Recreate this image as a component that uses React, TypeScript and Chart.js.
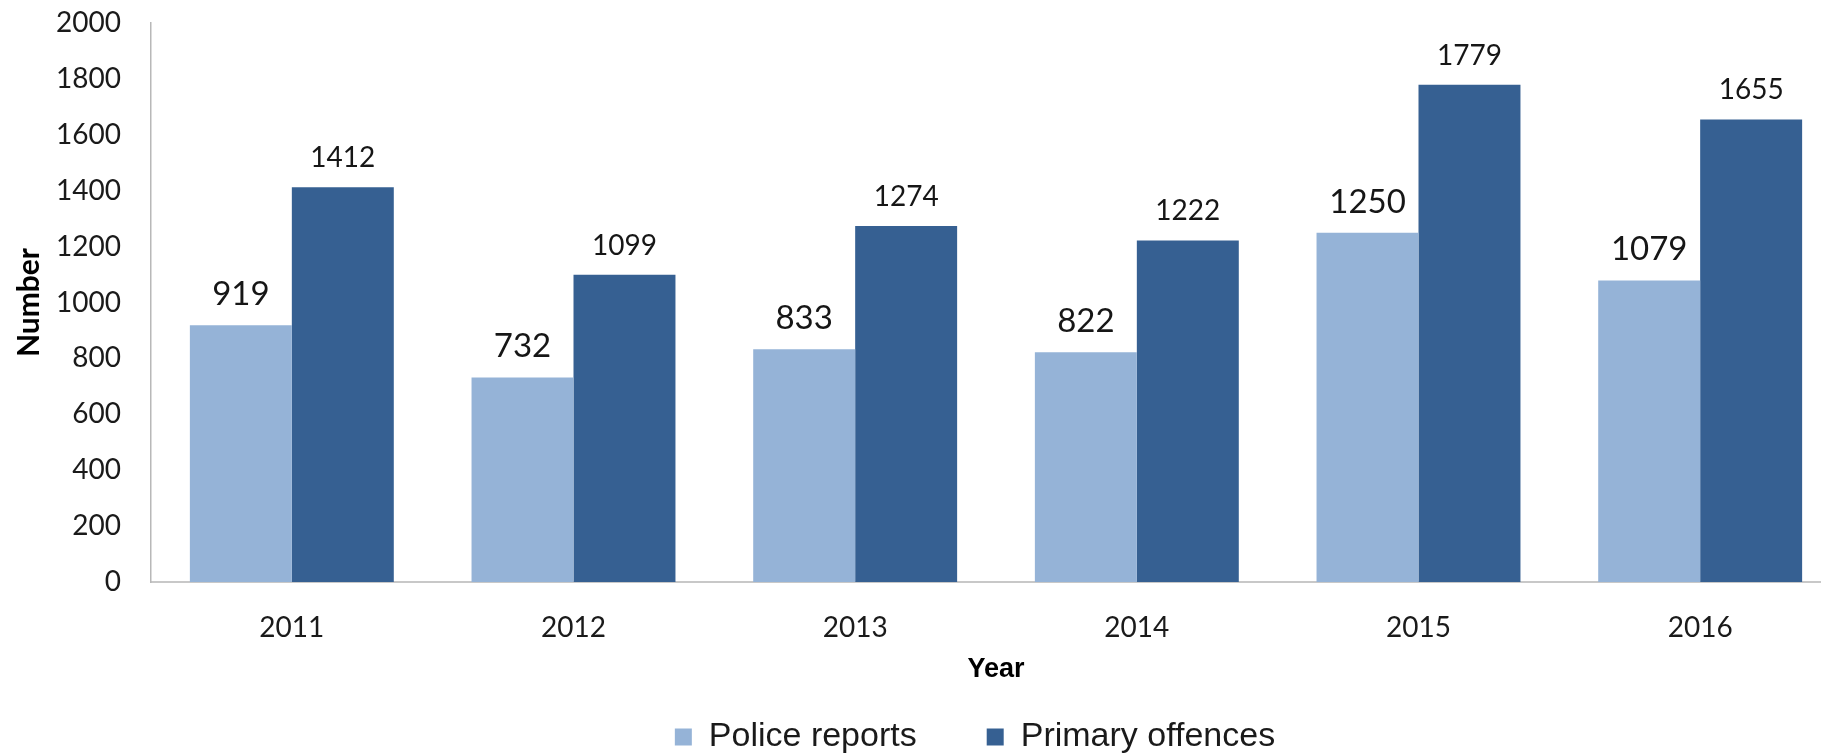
import React, { useEffect, useRef } from "react";
import { Chart, registerables } from "chart.js";

Chart.register(...registerables);

// ---- data ----
const years: string[] = ["2011", "2012", "2013", "2014", "2015", "2016"];
const policeReports: number[] = [919, 732, 833, 822, 1250, 1079];
const primaryOffences: number[] = [1412, 1099, 1274, 1222, 1779, 1655];
const seriesNames: string[] = ["Police reports", "Primary offences"];
const yMin = 0;
const yMax = 2000;
const yStep = 200;
const xTitle = "Year";
const yTitle = "Number";

const LIGHT = "#95B3D7";
const DARK = "#366092";

const dataLabelPlugin = {
  id: "barValueLabels",
  afterDatasetsDraw(chart: any) {
    const ctx = chart.ctx;
    chart.data.datasets.forEach((ds: any, di: number) => {
      const meta = chart.getDatasetMeta(di);
      ctx.save();
      ctx.font = di === 0 ? "33px Lato" : "28px Lato";
      ctx.fillStyle = "#161616";
      ctx.textAlign = "center";
      ctx.textBaseline = "alphabetic";
      meta.data.forEach((el: any, i: number) => {
        ctx.fillText(String(ds.data[i]), el.x, el.y - 20);
      });
      ctx.restore();
    });
  },
};

export default function App() {
  const canvasRef = useRef<HTMLCanvasElement | null>(null);

  useEffect(() => {
    if (!canvasRef.current) return;
    const chart = new Chart(canvasRef.current, {
      type: "bar",
      data: {
        labels: years,
        datasets: [
          {
            label: seriesNames[0],
            data: policeReports,
            backgroundColor: LIGHT,
            borderWidth: 0,
            categoryPercentage: 0.724,
            barPercentage: 1.0,
          },
          {
            label: seriesNames[1],
            data: primaryOffences,
            backgroundColor: DARK,
            borderWidth: 0,
            categoryPercentage: 0.724,
            barPercentage: 1.0,
          },
        ],
      },
      options: {
        animation: false,
        responsive: true,
        maintainAspectRatio: false,
        devicePixelRatio: 1,
        layout: { padding: { top: 23, left: 0, right: 0, bottom: 0 } },
        plugins: {
          tooltip: { enabled: false },
          legend: {
            position: "bottom",
            align: "center",
            labels: {
              boxWidth: 17,
              boxHeight: 17,
              padding: 70,
              color: "#1a1a1a",
              font: { family: "'Liberation Sans', Arial, sans-serif", size: 34 },
            },
          },
        },
        scales: {
          x: {
            type: "category",
            grid: { display: false, drawTicks: false },
            border: { display: true, color: "#c8c8c8", width: 2 },
            ticks: {
              padding: 29,
              color: "#1a1a1a",
              font: { family: "Lato", size: 28 },
            },
            title: {
              display: true,
              text: xTitle,
              color: "#000",
              font: { family: "'Liberation Sans', Arial, sans-serif", size: 27, weight: "bold" },
              padding: { top: 0, bottom: -36 },
            },
            afterFit(scale: any) {
              scale.height = 68;
            },
          },
          y: {
            type: "linear",
            position: "left",
            min: yMin,
            max: yMax,
            grid: { display: false, drawTicks: true, tickLength: 24 },
            border: { display: true, color: "#b8b8b8", width: 1.5 },
            ticks: {
              stepSize: yStep,
              padding: 6,
              color: "#1a1a1a",
              font: { family: "Lato", size: 28 },
              callback: (v: any) => String(v),
            },
            title: {
              display: true,
              text: yTitle,
              color: "#000",
              font: { family: "Lato", size: 30, weight: "bold" },
              padding: { top: 11, bottom: 0 },
            },
            afterFit(scale: any) {
              scale.width = 151;
            },
          },
          y2: {
            type: "linear",
            position: "right",
            display: true,
            grid: { display: false, drawTicks: false },
            border: { display: false },
            ticks: { display: false },
            afterFit(scale: any) {
              scale.width = 109;
            },
          },
        },
      },
      plugins: [dataLabelPlugin],
    } as any);
    return () => chart.destroy();
  }, []);

  return (
    <div
      style={{
        position: "fixed",
        left: 0,
        top: 0,
        width: 1821,
        height: 755,
        overflow: "hidden",
        background: "#ffffff",
      }}
    >
      <div style={{ position: "absolute", left: 0, top: 0, width: 1950, height: 764 }}>
        <canvas ref={canvasRef} />
      </div>
    </div>
  );
}
